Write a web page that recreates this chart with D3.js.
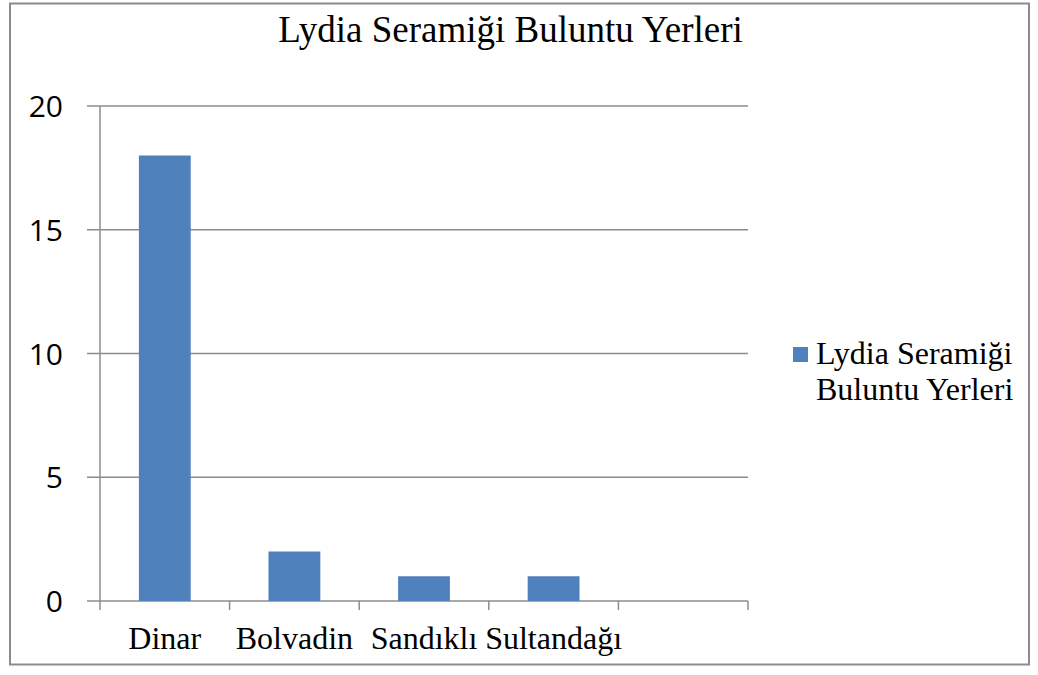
<!DOCTYPE html>
<html><head><meta charset="utf-8">
<script src="https://cdn.jsdelivr.net/npm/d3@7"></script>
<style>body{margin:0;background:#fff}svg{display:block}</style>
</head><body>
<svg id="c" width="1038" height="675"></svg>
<script>
const categories = ["Dinar", "Bolvadin", "Sandıklı", "Sultandağı", ""];
const values = [18, 2, 1, 1, null];
const yTicks = [0, 5, 10, 15, 20];
const title = "Lydia Seramiği Buluntu Yerleri";
const legendLines = ["Lydia Seramiği", "Buluntu Yerleri"];

const svg = d3.select("#c");
svg.append("rect").attr("x", 10).attr("y", 3.5).attr("width", 1019).attr("height", 661)
  .attr("fill", "#fff").attr("stroke", "#8c8c8c").attr("stroke-width", 2);

const x0 = 100, x1 = 748, yTop = 106, yBot = 601;
const x = d3.scaleBand().domain(categories.map((d, i) => i)).range([x0, x1]).paddingInner(0.6).paddingOuter(0.3);
const y = d3.scaleLinear().domain([0, 20]).range([yBot, yTop]);
const grid = "#8c8c8c";
const serif = "'Liberation Serif', 'Times New Roman', serif";

svg.append("g").selectAll("line").data(yTicks).join("line")
  .attr("x1", 87).attr("x2", x1).attr("y1", d => y(d)).attr("y2", d => y(d))
  .attr("stroke", grid).attr("stroke-width", 1.5);
svg.append("line").attr("x1", x0).attr("x2", x0).attr("y1", yTop).attr("y2", yBot)
  .attr("stroke", grid).attr("stroke-width", 1.5);
const step = (x1 - x0) / categories.length;
svg.append("g").selectAll("line").data(d3.range(categories.length + 1)).join("line")
  .attr("x1", i => x0 + i * step).attr("x2", i => x0 + i * step)
  .attr("y1", yBot).attr("y2", yBot + 9).attr("stroke", grid).attr("stroke-width", 1.5);

svg.append("g").selectAll("text").data(yTicks).join("text")
  .attr("x", 63).attr("y", d => y(d) + 11).attr("text-anchor", "end")
  .attr("font-family", "'Open Sans', 'Liberation Sans', sans-serif").attr("font-size", 30)
  .attr("fill", "#000").text(d => d);

svg.append("g").selectAll("rect").data(values.map((v, i) => ({v, i})).filter(d => d.v != null)).join("rect")
  .attr("x", d => x(d.i)).attr("width", x.bandwidth())
  .attr("y", d => y(d.v)).attr("height", d => y(0) - y(d.v))
  .attr("fill", "#4f81bd");

svg.append("g").selectAll("text").data(categories).join("text")
  .attr("x", (d, i) => x(i) + x.bandwidth() / 2).attr("y", 649).attr("text-anchor", "middle")
  .attr("font-family", serif).attr("font-size", 32).attr("fill", "#000").text(d => d);

svg.append("text").attr("x", 510.5).attr("y", 42).attr("text-anchor", "middle")
  .attr("font-family", serif).attr("font-size", 37).attr("fill", "#000").text(title);

svg.append("rect").attr("x", 793).attr("y", 347).attr("width", 15).attr("height", 15).attr("fill", "#4f81bd");
svg.append("g").selectAll("text").data(legendLines).join("text")
  .attr("x", 816).attr("y", (d, i) => 364 + i * 36)
  .attr("font-family", serif).attr("font-size", 32).attr("fill", "#000").text(d => d);
</script>
</body></html>
